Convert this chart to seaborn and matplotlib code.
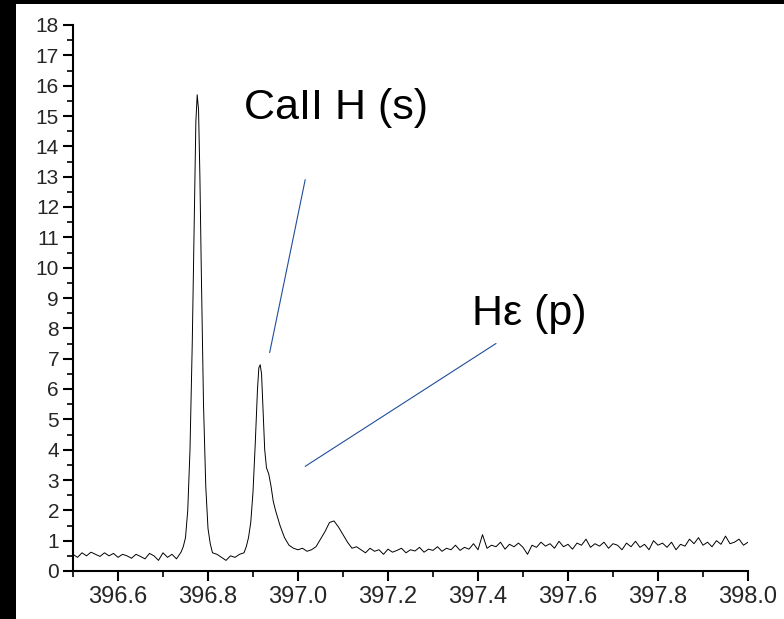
import numpy as np
import matplotlib.pyplot as plt
import seaborn as sns
from matplotlib.ticker import MultipleLocator

# wavelength (nm) and intensity
wl_left = [396.50 + 0.01 * i for i in range(25)]
int_left = [0.55, 0.45, 0.6, 0.5, 0.62, 0.55, 0.48, 0.6, 0.5, 0.58, 0.45, 0.55, 0.5,
            0.42, 0.55, 0.48, 0.4, 0.58, 0.5, 0.35, 0.6, 0.45, 0.55, 0.4, 0.62]
wl_peak1 = [396.745, 396.75, 396.755, 396.76, 396.765, 396.77, 396.773, 396.776,
            396.779, 396.782, 396.785, 396.79, 396.795, 396.80, 396.805, 396.81]
int_peak1 = [0.8, 1.1, 2.0, 4.0, 7.5, 12.0, 14.8, 15.7, 15.2, 13.0, 10.0, 5.5, 2.8, 1.4, 0.9, 0.6]
wl_valley = [396.82, 396.83, 396.84, 396.85, 396.86, 396.87, 396.88]
int_valley = [0.55, 0.45, 0.35, 0.5, 0.45, 0.55, 0.6]
wl_peak2 = [396.885, 396.89, 396.895, 396.90, 396.905, 396.91, 396.913, 396.916, 396.919,
            396.922, 396.926, 396.93, 396.935, 396.94, 396.945, 396.95, 396.96, 396.97,
            396.98, 396.99, 397.00]
int_peak2 = [0.8, 1.1, 1.6, 2.6, 4.2, 6.0, 6.7, 6.8, 6.5, 5.4, 4.0, 3.4, 3.2, 2.8, 2.3,
             2.0, 1.5, 1.1, 0.85, 0.75, 0.7]
wl_peak3 = [397.01 + 0.01 * i for i in range(13)]
int_peak3 = [0.75, 0.65, 0.7, 0.8, 1.05, 1.3, 1.6, 1.65, 1.45, 1.2, 0.95, 0.75, 0.8]
wl_right = [397.14 + 0.01 * i for i in range(87)]
int_right = [0.7, 0.6, 0.75, 0.65, 0.7, 0.55, 0.72, 0.62, 0.68, 0.75, 0.6, 0.7, 0.66,
             0.78, 0.62, 0.72, 0.68, 0.8, 0.65, 0.75, 0.7, 0.85, 0.68, 0.78, 0.72, 0.9,
             0.7, 1.2, 0.75, 0.85, 0.8, 0.95, 0.72, 0.88, 0.8, 0.92, 0.78, 0.55, 0.85,
             0.78, 0.95, 0.82, 0.9, 0.75, 0.98, 0.8, 0.88, 0.72, 0.92, 0.85, 1.05, 0.78,
             0.9, 0.82, 0.95, 0.75, 0.9, 0.85, 0.7, 0.92, 0.8, 0.98, 0.78, 0.88, 0.7,
             1.0, 0.85, 0.92, 0.78, 0.95, 0.7, 0.88, 0.82, 1.05, 0.9, 1.1, 0.85, 0.95,
             0.8, 1.0, 0.88, 1.15, 0.9, 0.95, 1.05, 0.85, 0.95]

wl = wl_left + wl_peak1 + wl_valley + wl_peak2 + wl_peak3 + wl_right
inten = int_left + int_peak1 + int_valley + int_peak2 + int_peak3 + int_right

sns.set_style('ticks')
plt.rcParams['font.family'] = ['Liberation Sans', 'DejaVu Sans']

fig = plt.figure(figsize=(7.84, 6.19), dpi=100, facecolor='black')
# white panel over the black background
bg = fig.add_axes([16 / 784, 0, 1 - 16 / 784, 1 - 4 / 619], zorder=-5)
bg.set_axis_off()
bg.add_patch(plt.Rectangle((0, 0), 1, 1, transform=bg.transAxes, color='white'))

ax = fig.add_axes([73 / 784, 48 / 619, (748 - 73) / 784, (571 - 25) / 619])
ax.patch.set_alpha(0)
sns.lineplot(x=wl, y=inten, ax=ax, color='black', linewidth=0.7)

ax.set_xlim(396.5, 398.0)
ax.set_ylim(0, 18)
ax.set_xticks(np.arange(396.6, 398.01, 0.2))
ax.xaxis.set_minor_locator(MultipleLocator(0.1))
ax.yaxis.set_major_locator(MultipleLocator(1))
ax.yaxis.set_minor_locator(MultipleLocator(0.5))
ax.xaxis.set_major_formatter(plt.FuncFormatter(lambda v, p: f'{v:.1f}'))
ax.tick_params(which='major', length=7, width=1.5, color='black')
ax.tick_params(which='minor', length=4, width=1.2, color='black')
ax.tick_params(axis='x', labelsize=17)
ax.tick_params(axis='y', labelsize=15, pad=3)
for s in ['left', 'bottom']:
    ax.spines[s].set_linewidth(1.5)
    ax.spines[s].set_color('black')
sns.despine(ax=ax)

# annotations
ax.plot([396.937, 397.016], [7.2, 12.9], color='#1f4e9a', linewidth=0.8)
ax.plot([397.016, 397.44], [3.45, 7.5], color='#1f4e9a', linewidth=0.8)
ax.text(396.88, 14.9, 'CaII H (s)', fontsize=31, color='black')
ax.text(397.387, 8.1, 'Hε (p)', fontsize=31, color='black')

fig.savefig('out.png', dpi=100, facecolor='black')
